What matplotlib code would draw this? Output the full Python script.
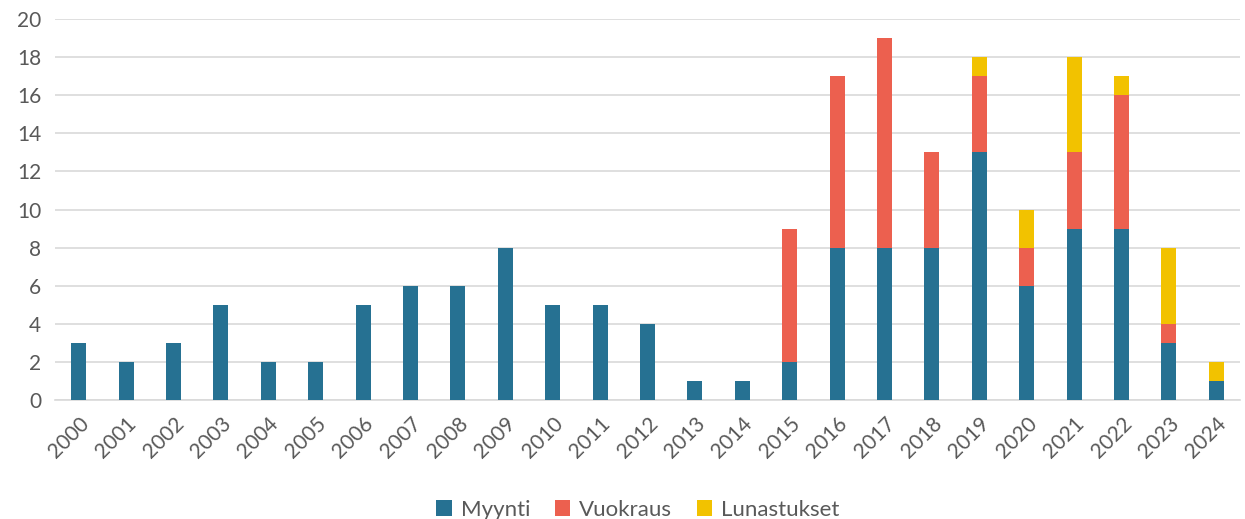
import matplotlib
matplotlib.use("Agg")
import matplotlib.pyplot as plt
import numpy as np

years = [str(y) for y in range(2000, 2025)]
myynti = [3, 2, 3, 5, 2, 2, 5, 6, 6, 8, 5, 5, 4, 1, 1, 2, 8, 8, 8, 13, 6, 9, 9, 3, 1]
vuokraus = [0, 0, 0, 0, 0, 0, 0, 0, 0, 0, 0, 0, 0, 0, 0, 7, 9, 11, 5, 4, 2, 4, 7, 1, 0]
lunastukset = [0, 0, 0, 0, 0, 0, 0, 0, 0, 0, 0, 0, 0, 0, 0, 0, 0, 0, 0, 1, 2, 5, 1, 4, 1]

plt.rcParams["font.family"] = ["Lato", "DejaVu Sans"]
text_color = "#595959"

fig = plt.figure(figsize=(12.45, 5.19), dpi=100)
ax = fig.add_axes([55 / 1245, 1 - 400 / 519, 1185 / 1245, 381 / 519])

x = np.arange(len(years))
w = 0.32
m = np.array(myynti)
v = np.array(vuokraus)
lu = np.array(lunastukset)
ax.bar(x, m, w, color="#267192", label="Myynti", zorder=3)
ax.bar(x, v, w, bottom=m, color="#EC604F", label="Vuokraus", zorder=3)
ax.bar(x, lu, w, bottom=m + v, color="#F2C200", label="Lunastukset", zorder=3)

ax.set_xlim(-0.5, len(years) - 0.5)
ax.set_ylim(0, 20)
ax.set_yticks(range(0, 21, 2))
ax.grid(axis="y", color="#D9D9D9", linewidth=1.2, zorder=0)
for s in ["top", "right", "left"]:
    ax.spines[s].set_visible(False)
ax.spines["bottom"].set_color("#D9D9D9")
ax.spines["bottom"].set_linewidth(1.2)
ax.tick_params(axis="both", length=0, labelsize=15, labelcolor=text_color)
ax.tick_params(axis="y", pad=10)
ax.tick_params(axis="x", pad=10)
ax.set_xticks(x)
ax.set_xticklabels(years, rotation=45, ha="right", rotation_mode="anchor")

fig.legend(
    loc="center",
    bbox_to_anchor=(638 / 1245, 9 / 519),
    ncol=3,
    frameon=False,
    fontsize=16,
    labelcolor=text_color,
    handlelength=0.7,
    handleheight=0.7,
    columnspacing=1.1,
    handletextpad=0.4,
)

fig.savefig("out.png", dpi=100)
